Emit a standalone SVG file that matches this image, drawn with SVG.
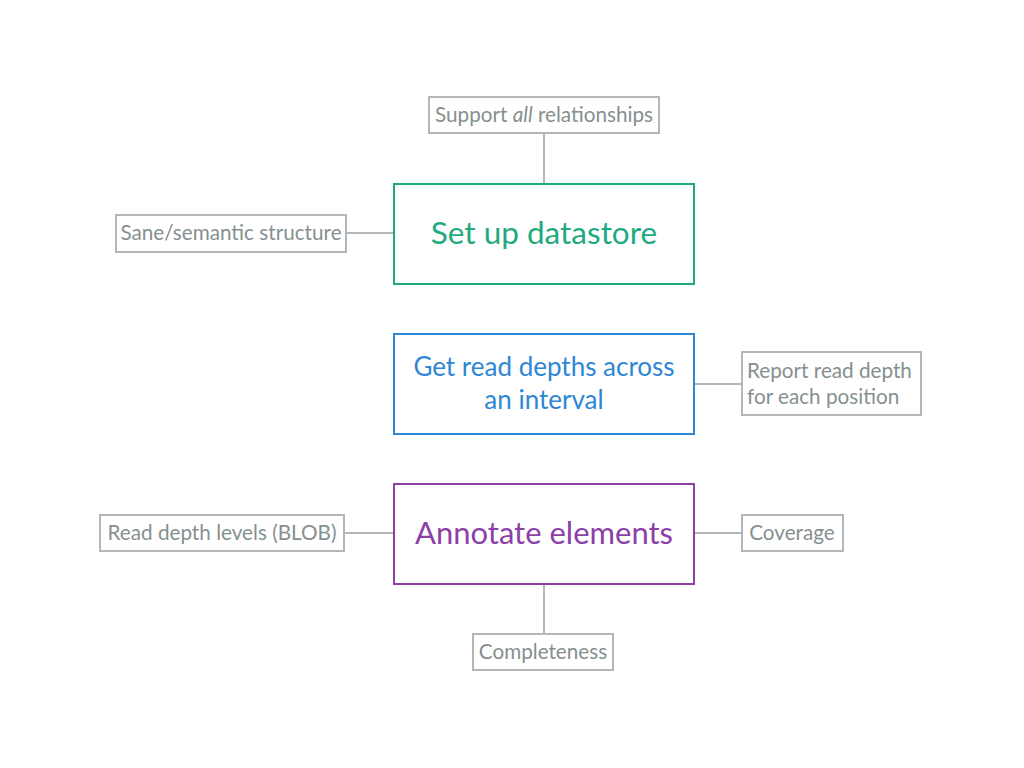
<svg xmlns="http://www.w3.org/2000/svg" width="1024" height="768" viewBox="0 0 1024 768">
<style>
.sub rect{fill:#fff;stroke:#b3b7ba;stroke-width:2}
.sub text{font-family:Lato,"Open Sans","Liberation Sans",sans-serif;font-size:20.7px;fill:#86908f;text-anchor:middle}
.main text{font-family:Lato,"Open Sans","Liberation Sans",sans-serif;text-anchor:middle}
.main rect{fill:#fff;stroke-width:2}
#connectors line{stroke:#b3b7ba;stroke-width:2}
</style>
<rect width="1024" height="768" fill="#fff"/>
<g id="connectors">
<line x1="544" y1="133" x2="544" y2="184"/>
<line x1="346" y1="233" x2="394" y2="233"/>
<line x1="694" y1="384" x2="742" y2="384"/>
<line x1="344" y1="533" x2="394" y2="533"/>
<line x1="694" y1="533" x2="742" y2="533"/>
<line x1="544" y1="584" x2="544" y2="634"/>
</g>
<g id="datastore" class="main">
<rect x="394" y="184" width="300" height="100" stroke="#1fa982"/>
<text x="544" y="244" font-size="31.5" fill="#1fa982">Set up datastore</text>
</g>
<g id="readdepths" class="main">
<rect x="394" y="334" width="300" height="100" stroke="#2f86d4"/>
<text x="544" y="376" font-size="26" fill="#2f86d4">Get read depths across</text>
<text x="544" y="409" font-size="26" fill="#2f86d4">an interval</text>
</g>
<g id="annotate" class="main">
<rect x="394" y="484" width="300" height="100" stroke="#8d3fa8"/>
<text x="544" y="544" font-size="31" fill="#8d3fa8">Annotate elements</text>
</g>
<g id="support" class="sub">
<rect x="429" y="97" width="230" height="36"/>
<text x="544" y="122">Support <tspan font-style="italic">all</tspan> relationships</text>
</g>
<g id="sane" class="sub">
<rect x="116" y="215" width="230" height="37"/>
<text x="231" y="240">Sane/semantic structure</text>
</g>
<g id="report" class="sub">
<rect x="742" y="352" width="179" height="63"/>
<text x="747" y="378" style="text-anchor:start">Report read depth</text>
<text x="747" y="404" style="text-anchor:start">for each position</text>
</g>
<g id="blob" class="sub">
<rect x="100" y="515" width="244" height="36"/>
<text x="222" y="540">Read depth levels (BLOB)</text>
</g>
<g id="coverage" class="sub">
<rect x="742" y="515" width="101" height="36"/>
<text x="792" y="540">Coverage</text>
</g>
<g id="completeness" class="sub">
<rect x="473" y="634" width="140" height="36"/>
<text x="543" y="659">Completeness</text>
</g>
</svg>
